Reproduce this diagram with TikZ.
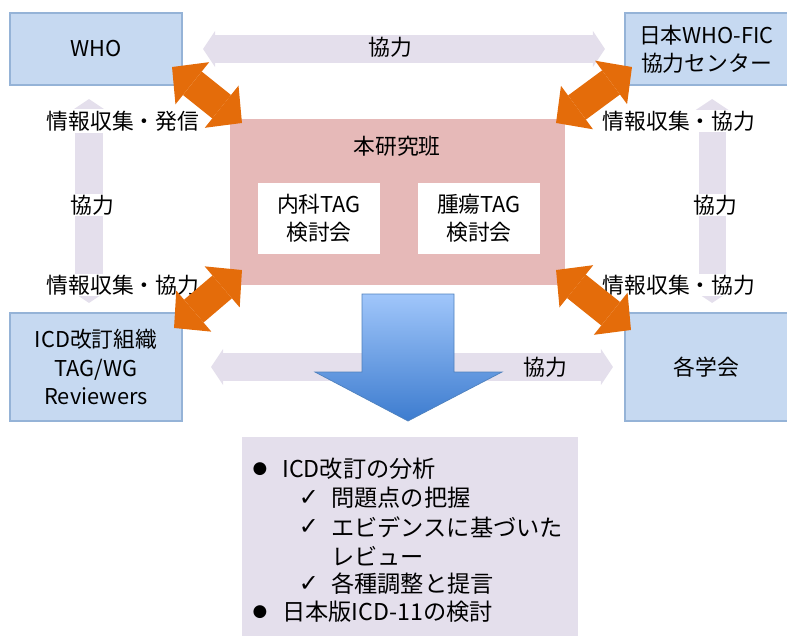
\documentclass[tikz,border=0pt]{standalone}
\usepackage{fontspec}
\setmainfont{Noto Sans CJK JP}
\newfontfamily\symfont{DejaVu Sans}
\usetikzlibrary{arrows.meta,calc}

\definecolor{boxfill}{HTML}{C6D9F1}
\definecolor{boxline}{HTML}{95B3D7}
\definecolor{pinkfill}{HTML}{E6B9B8}
\definecolor{lavender}{HTML}{E4DFEC}
\definecolor{orangearrow}{HTML}{E46C0A}
\definecolor{bluetop}{HTML}{A0C6FA}
\definecolor{bluebottom}{HTML}{3D7CCF}
\definecolor{blueline}{HTML}{4F81BD}

\tikzset{
	bluebox/.style={draw=boxline, line width=1pt, fill=boxfill, align=center, inner sep=0pt, outer sep=0pt},
	pinkbox/.style={fill=pinkfill, inner sep=0pt, outer sep=0pt},
	whitebox/.style={fill=white, align=center, inner sep=0pt, minimum width=3.05cm, minimum height=1.775cm},
	lbl/.style={fill=white, inner sep=1pt},
	purparr/.style={draw=lavender, line width=0.675cm,
		arrows={Triangle[length=0.3cm,width=0.9cm,line width=0pt]-Triangle[length=0.3cm,width=0.9cm,line width=0pt]}},
	orangearr/.style={draw=orangearrow, line width=0.75cm,
		arrows={Triangle[length=0.65cm,width=1.35cm,line width=0pt]-Triangle[length=0.65cm,width=1.35cm,line width=0pt]}},
	listtext/.style={anchor=west, inner sep=0pt, font=\fontsize{16.5}{20}\selectfont},
	bullet/.style={font=\fontsize{12}{14}\symfont},
	check/.style={font=\fontsize{17}{18}\symfont},
}

\begin{document}
\begin{tikzpicture}[x=0.025cm, y=-0.025cm, font=\fontsize{15.5}{20}\selectfont]
		%%%%% START %%%%%
		\useasboundingbox (0,0) rectangle (787,636);
		
		\node[bluebox, minimum width=4.3cm, minimum height=1.8cm] (who) at (96,49) {WHO};
		\node[bluebox, minimum width=4.075cm, minimum height=1.8cm] (fic) at (706.5,49) {日本WHO-FIC\\協力センター};
		\node[bluebox, minimum width=4.3cm, minimum height=2.7cm] (icd) at (96,367) {ICD改訂組織\\TAG/WG\\Reviewers};
		\node[bluebox, minimum width=4.075cm, minimum height=2.7cm] (kai) at (706.5,367) {各学会};
		
		\node[pinkbox, minimum width=8.375cm, minimum height=4.15cm] (ben) at (397.5,202) {};
		\node (bentitle) at (397,146) {本研究班};
		\node[whitebox] (naika) at (319,218.5) {内科TAG\\検討会};
		\node[whitebox] (shuyou) at (479,218.5) {腫瘍TAG\\検討会};
		
		% kyouryoku arrows
		\draw[purparr, shorten <=0.525cm, shorten >=0.5cm] (who.east) -- (fic.west);
		\draw[purparr, shorten <=0.35cm, shorten >=0.25cm] ([xshift=-0.175cm]who.south) -- ([xshift=-0.175cm]icd.north);
		\draw[purparr, shorten <=0.35cm, shorten >=0.25cm] ([xshift=0.14cm]fic.south) -- ([xshift=0.14cm]icd.north -| fic.south);
		\draw[purparr, shorten <=0.725cm, shorten >=0.3cm] (icd.east) -- (kai.west);
		
		\node (k1) at (390,47) {協力};
		\node (k2) at (545,367) {協力};
		\node[lbl] (k3) at (92,205) {協力};
		\node[lbl] (k4) at (715,205) {協力};
		\node[lbl] (j1) at (123,121) {情報収集・発信};
		\node[lbl] (j2) at (123,285) {情報収集・協力};
		\node[lbl] (j3) at (679,121) {情報収集・協力};
		\node[lbl] (j4) at (679,285) {情報収集・協力};
		
		% orange arrows
		\draw[orangearr] ($(who.south east)+(-10,-18)$) -- ($(ben.north west)+(12,4)$);
		\draw[orangearr] ($(fic.south west)+(7,-18)$) -- ($(ben.north east)+(-9,4)$);
		\draw[orangearr] ($(icd.north east)+(-8,15)$) -- ($(ben.south west)+(12,-15)$);
		\draw[orangearr] ($(kai.north west)+(6,17)$) -- ($(ben.south east)+(-9,-15)$);
		
		% big down arrow
		\draw[draw=blueline, line width=0.5pt, top color=bluetop, bottom color=bluebottom]
			(362,294) -- (454,294) -- (454,372) -- (502,372) -- (408,421) -- (315,372) -- (362,372) -- cycle;
		
		\node[fill=lavender, minimum width=8.4cm, minimum height=5.05cm, inner sep=0pt] (summary) at (410,538) {};
		
		\node[bullet] (b1) at (260,469) {●};
		\node[listtext] (l1) at (282,469) {ICD改訂の分析};
		\node[check] (c1) at (309,498) {✓};
		\node[listtext] (l2) at (331,498) {問題点の把握};
		\node[check] (c2) at (309,527) {✓};
		\node[listtext] (l3) at (331,527) {エビデンスに基づいた};
		\node[listtext] (l4) at (331,556) {レビュー};
		\node[check] (c3) at (309,584) {✓};
		\node[listtext] (l5) at (331,584) {各種調整と提言};
		\node[bullet] (b2) at (260,612) {●};
		\node[listtext] (l6) at (282,612) {日本版ICD-11の検討};
		
		%%%%% END %%%%%
\end{tikzpicture}
\end{document}
